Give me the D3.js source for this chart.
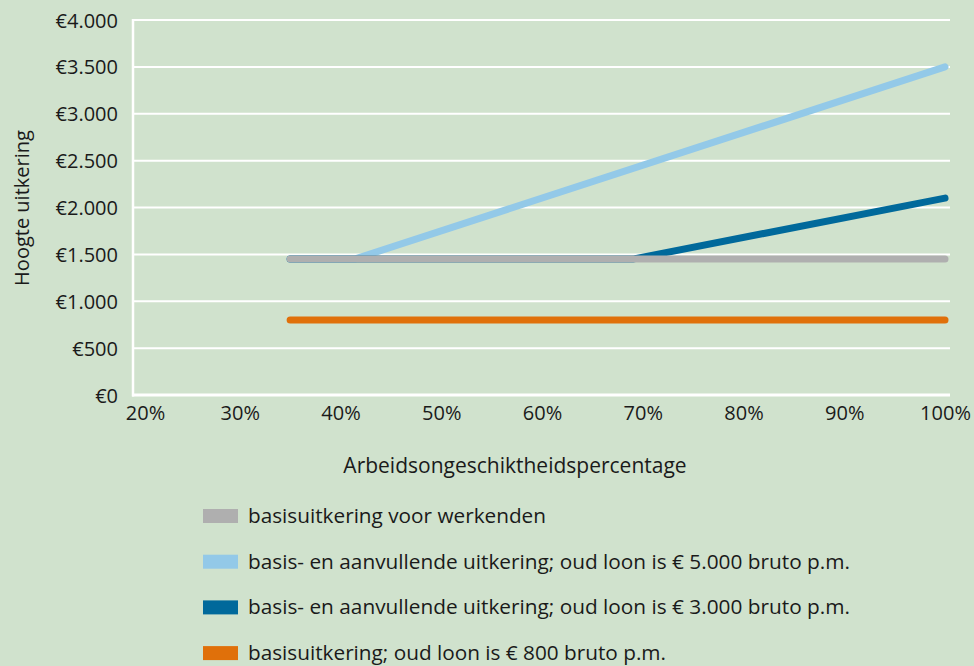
<!DOCTYPE html>
<html>
<head>
<meta charset="utf-8">
<script src="https://cdn.jsdelivr.net/npm/d3@7"></script>
<style>
  body { margin: 0; background: #d0e2cd; }
  svg { display: block; }
  text { font-family: 'Open Sans', sans-serif; fill: #1a1a1a; }
  .tick text { font-size: 20px; }
</style>
</head>
<body>
<svg width="974" height="666"></svg>
<script>
const yTicks = [0, 500, 1000, 1500, 2000, 2500, 3000, 3500, 4000];
const xTicks = [20, 30, 40, 50, 60, 70, 80, 90, 100];

const seriesNames = [
  'basisuitkering voor werkenden',
  'basis- en aanvullende uitkering; oud loon is € 5.000 bruto p.m.',
  'basis- en aanvullende uitkering; oud loon is € 3.000 bruto p.m.',
  'basisuitkering; oud loon is € 800 bruto p.m.'
];
const colors = ['#afafaf', '#93c9e8', '#00699b', '#e0700a'];

// [percentage, euro]
const basisWerkenden = [[35, 1450], [100, 1450]];
const loon5000 = [[35, 1450], [41.4, 1450], [100, 3500]];
const loon3000 = [[35, 1450], [69, 1450], [100, 2100]];
const loon800 = [[35, 800], [100, 800]];

const series = [basisWerkenden, loon5000, loon3000, loon800];
const drawOrder = [1, 2, 0, 3];

const svg = d3.select('svg');
const plotLeft = 133, plotRight = 950, plotTop = 20, plotBottom = 395;

const x = d3.scaleLinear().domain([20, 100]).range([139, 945]);
const y = d3.scaleLinear().domain([0, 4000]).range([plotBottom, plotTop]);

const euro = v => '€' + d3.format(',')(v).replace(/,/g, '.');

// gridlines
svg.append('g').selectAll('line').data(yTicks.filter(d => d > 0))
  .enter().append('line')
    .attr('x1', plotLeft).attr('x2', plotRight)
    .attr('y1', d => y(d)).attr('y2', d => y(d))
    .attr('stroke', '#fff').attr('stroke-width', 2);

svg.append('line')
  .attr('x1', plotLeft).attr('x2', plotLeft).attr('y1', plotTop - 1).attr('y2', plotBottom + 1.5)
  .attr('stroke', '#fff').attr('stroke-width', 2.5);
svg.append('line')
  .attr('x1', plotLeft - 1).attr('x2', plotRight).attr('y1', plotBottom).attr('y2', plotBottom)
  .attr('stroke', '#fff').attr('stroke-width', 3);

const yAxisG = svg.append('g')
  .attr('transform', `translate(${plotLeft},0)`)
  .call(d3.axisLeft(y).tickValues(yTicks).tickFormat(euro).tickSize(0).tickPadding(15));
yAxisG.select('.domain').remove();
yAxisG.selectAll('text').attr('dy', '0.35em');

const xAxisG = svg.append('g')
  .attr('transform', `translate(0,${plotBottom})`)
  .call(d3.axisBottom(x).tickValues(xTicks).tickFormat(d => d + '%').tickSize(0).tickPadding(11));
xAxisG.select('.domain').remove();
xAxisG.selectAll('.tick').filter(d => d === 20)
  .select('text').attr('dx', 6);

// lines
const line = d3.line().x(d => x(d[0])).y(d => y(d[1]));
svg.append('g').selectAll('path').data(drawOrder)
  .enter().append('path')
    .attr('d', i => line(series[i]))
    .attr('fill', 'none')
    .attr('stroke', i => colors[i])
    .attr('stroke-width', 7)
    .attr('stroke-linecap', 'round')
    .attr('stroke-linejoin', 'round');

// axis titles
svg.append('text')
  .attr('transform', 'translate(29,208) rotate(-90)')
  .attr('text-anchor', 'middle')
  .attr('font-size', 20)
  .text('Hoogte uitkering');

svg.append('text')
  .attr('x', 515).attr('y', 473)
  .attr('text-anchor', 'middle')
  .attr('font-size', 21)
  .text('Arbeidsongeschiktheidspercentage');

// legend
const legendWidths = [298, 602, 602, 418];
const legend = svg.append('g').selectAll('g').data(seriesNames)
  .enter().append('g')
    .attr('transform', (d, i) => `translate(203,${516 + i * 45.7})`);
legend.append('rect')
  .attr('x', 0).attr('y', -7).attr('width', 35).attr('height', 14)
  .attr('fill', (d, i) => colors[i]);
legend.append('text')
  .attr('x', 45).attr('y', 7)
  .attr('font-size', 20)
  .attr('textLength', (d, i) => legendWidths[i])
  .attr('lengthAdjust', 'spacingAndGlyphs')
  .text(d => d);
</script>
</body>
</html>
